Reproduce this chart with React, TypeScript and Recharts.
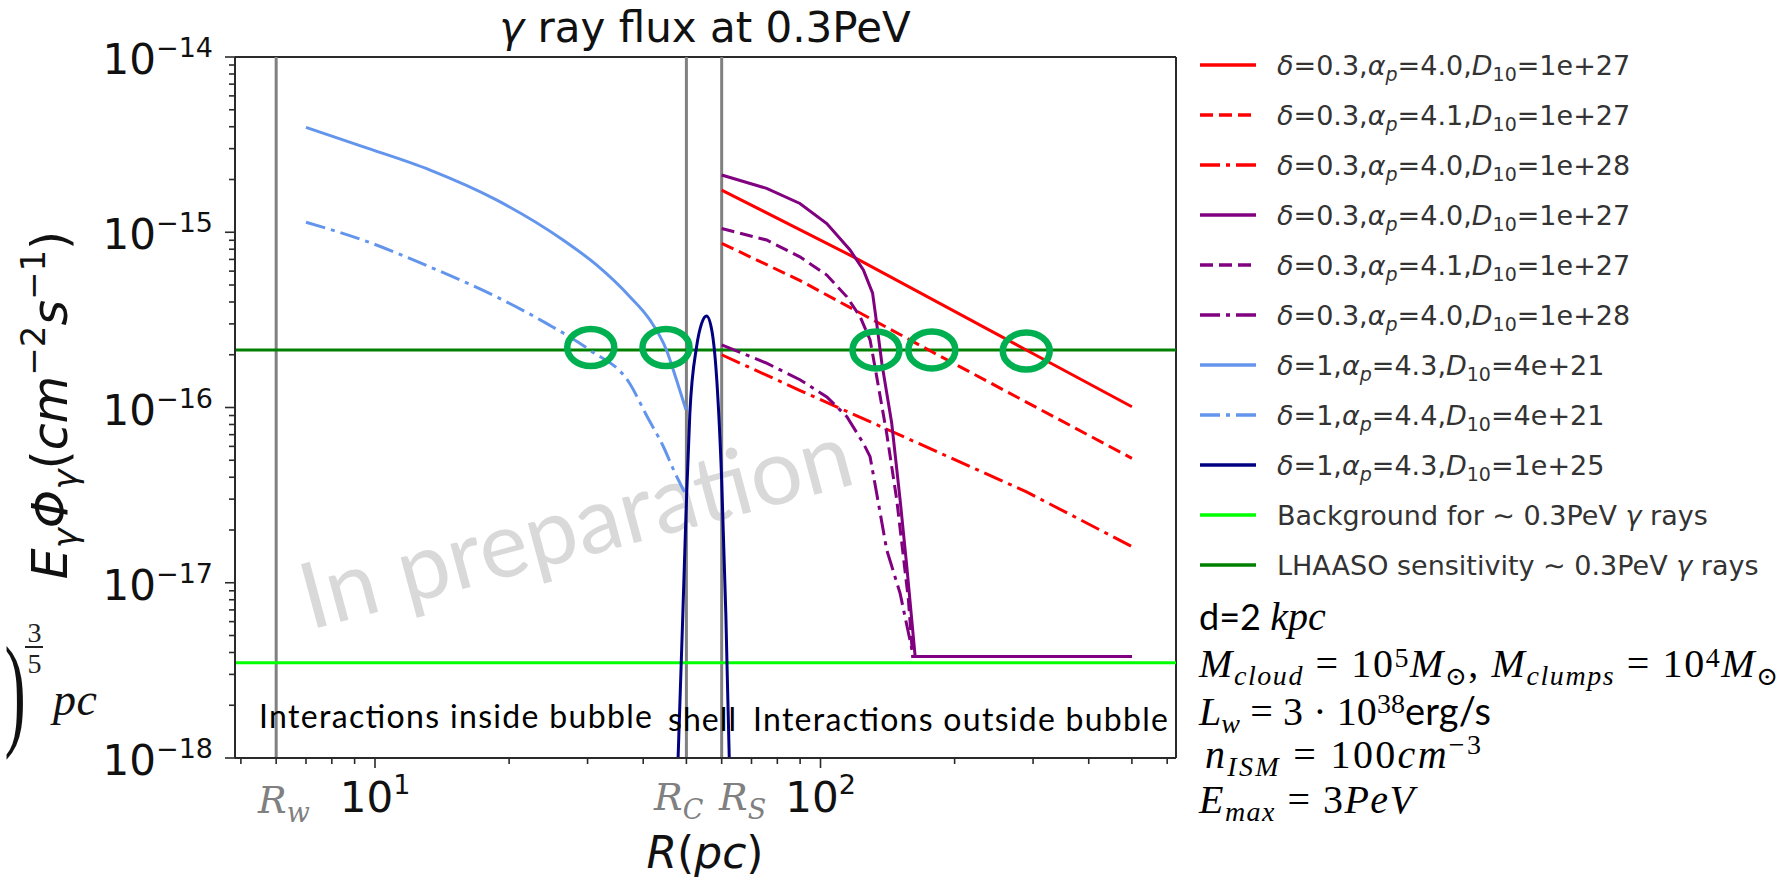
import React from 'react';
import { LineChart, Line, XAxis, YAxis, ReferenceLine, ReferenceDot } from 'recharts';

// ---------------- data (R in pc, flux in cm^-2 s^-1) ----------------
const redSolid: [number, number][] = [[60, 1.74e-15], [118.5, 7.24e-16], [289.6, 2.13e-16], [500, 1.01e-16]];
const redDashed: [number, number][] = [[60, 8.65e-16], [90, 5.3e-16], [177.8, 2.08e-16], [500, 5.13e-17]];
const redDashDot: [number, number][] = [[60, 2.0e-16], [90, 1.25e-16], [150, 7.0e-17], [290, 3.3e-17], [500, 1.61e-17]];
const purpleSolid: [number, number][] = [
  [60, 2.12e-15], [75.7, 1.78e-15], [89.9, 1.46e-15], [103.3, 1.12e-15], [116.5, 7.92e-16], [124.8, 6.09e-16],
  [130.9, 4.49e-16], [133.7, 3.02e-16], [137.3, 1.79e-16], [144.5, 8.13e-17], [150.9, 2.97e-17], [156.2, 1.24e-17],
  [163.1, 3.8e-18], [500, 3.8e-18],
];
const purpleDashed: [number, number][] = [
  [60, 1.05e-15], [75.7, 9.03e-16], [89.9, 7.24e-16], [103.3, 5.7e-16], [114.6, 4.28e-16], [122.7, 3.3e-16],
  [129.2, 2.43e-16], [133.7, 1.5e-16], [140.8, 7.1e-17], [144.5, 4.6e-17], [148.3, 2.97e-17], [157.5, 8.0e-18],
  [161, 3.8e-18], [500, 3.8e-18],
];
const purpleDashDot: [number, number][] = [
  [60, 2.28e-16], [75.7, 1.79e-16], [89.9, 1.44e-16], [103.3, 1.15e-16], [114.6, 8.86e-17], [124.8, 6.25e-17],
  [129.2, 5.24e-17], [133.7, 3.23e-17], [140.8, 1.54e-17], [150.9, 8.7e-18], [161.6, 3.8e-18], [500, 3.8e-18],
];
const blueSolid: [number, number][] = [
  [7.0, 3.97e-15], [9.39, 3.08e-15], [13.26, 2.27e-15], [18.73, 1.53e-15], [26.43, 9.03e-16], [31.42, 6.51e-16],
  [37.33, 4.29e-16], [41.4, 3.16e-16], [45.1, 2.13e-16], [47.5, 1.44e-16], [49.9, 9.7e-17],
];
const blueDashDot: [number, number][] = [
  [7.0, 1.14e-15], [9.39, 9.03e-16], [13.26, 6.35e-16], [18.73, 4.28e-16], [24.26, 3.02e-16], [30.3, 2.13e-16],
  [37.3, 1.37e-16], [40.7, 9.0e-17], [44.4, 5.97e-17], [47.0, 4.3e-17], [49.5, 3.3e-17],
];
const navySolid: [number, number][] = [
  [47.3, 5e-19], [47.9, 1e-18], [49.9, 2.49e-17], [50.9, 9.27e-17], [52.7, 2.22e-16], [54.1, 3.02e-16],
  [55.5, 3.33e-16], [57.0, 2.77e-16], [58.5, 1.44e-16], [60.0, 3.85e-17], [61.3, 6.7e-18], [62.4, 1e-18], [63.0, 5e-19],
];

const lhaasoLevel = 2.13e-16;
const backgroundLevel = 3.5e-18;
const radiusLines = [6, 50, 60];
const circleR = [30.5, 45, 133.2, 177.8, 289.6];
const circleY = [2.2e-16, 2.2e-16, 2.13e-16, 2.13e-16, 2.1e-16];

const xMajorTicks = [10, 100];
const xTickExponents = ['1', '2'];
const xMinorTicks = [5, 6, 7, 8, 9, 20, 30, 40, 50, 60, 70, 80, 90, 200, 300, 400, 500, 600];
const yMajorTicks = [1e-18, 1e-17, 1e-16, 1e-15, 1e-14];
const yTickExponents = ['−18', '−17', '−16', '−15', '−14'];
const yMinorTicks = [
  2e-18, 3e-18, 4e-18, 5e-18, 6e-18, 7e-18, 8e-18, 9e-18,
  2e-17, 3e-17, 4e-17, 5e-17, 6e-17, 7e-17, 8e-17, 9e-17,
  2e-16, 3e-16, 4e-16, 5e-16, 6e-16, 7e-16, 8e-16, 9e-16,
  2e-15, 3e-15, 4e-15, 5e-15, 6e-15, 7e-15, 8e-15, 9e-15,
];

const legendDelta = ['0.3', '0.3', '0.3', '0.3', '0.3', '0.3', '1', '1', '1'];
const legendAlpha = ['4.0', '4.1', '4.0', '4.0', '4.1', '4.0', '4.3', '4.4', '4.3'];
const legendD = ['1e+27', '1e+27', '1e+28', '1e+27', '1e+27', '1e+28', '4e+21', '4e+21', '1e+25'];

// ---------------- styles ----------------
const RED = '#ff0000';
const PURPLE = '#800080';
const CBLUE = '#6495ed';
const NAVY = '#000080';
const LIME = '#00ff00';
const GREEN = '#008000';
const DASH = '13 6';
const DASHDOT = '20 6 4 6';

const series = [
  { data: redSolid, color: RED, dash: undefined as string | undefined, curve: 'linear' },
  { data: redDashed, color: RED, dash: DASH, curve: 'linear' },
  { data: redDashDot, color: RED, dash: DASHDOT, curve: 'linear' },
  { data: purpleSolid, color: PURPLE, dash: undefined, curve: 'linear' },
  { data: purpleDashed, color: PURPLE, dash: DASH, curve: 'linear' },
  { data: purpleDashDot, color: PURPLE, dash: DASHDOT, curve: 'linear' },
  { data: blueSolid, color: CBLUE, dash: undefined, curve: 'monotone' },
  { data: blueDashDot, color: CBLUE, dash: DASHDOT, curve: 'monotone' },
  { data: navySolid, color: NAVY, dash: undefined, curve: 'monotone' },
];

const W = 1787;
const H = 880;
const PLOT_LEFT = 235;
const PLOT_RIGHT = 1176;
const PLOT_TOP = 57;
const PLOT_BOTTOM = 758;
const Y_AXIS_W = 120;
const X_AXIS_H = 100;
const AXIS_COLOR = '#2a2a2a';
const SANS = '"DejaVu Sans", sans-serif';
const SERIF = '"Liberation Serif", "DejaVu Serif", serif';
const CAL = 'Lato, "Open Sans", sans-serif';

const toPoints = (arr: [number, number][]) => arr.map(([r, v]) => ({ r, v }));

const XTick = (props: any) => {
  const { x, payload } = props;
  const v = payload.value;
  const i = xMajorTicks.indexOf(v);
  const major = i >= 0;
  return (
    <g>
      <line x1={x} x2={x} y1={PLOT_BOTTOM} y2={PLOT_BOTTOM + (major ? 10 : 6)} stroke={AXIS_COLOR} strokeWidth={1.6} />
      {major && (
        <text x={x} y={812} textAnchor="middle" fontFamily={SANS} fontSize={42} fill="#111">
          10<tspan dy={-18} fontSize={27}>{xTickExponents[i]}</tspan>
        </text>
      )}
    </g>
  );
};

const YTick = (props: any) => {
  const { y, payload } = props;
  const v = payload.value;
  const i = yMajorTicks.indexOf(v);
  const major = i >= 0;
  return (
    <g>
      <line x1={PLOT_LEFT} x2={PLOT_LEFT - (major ? 10 : 6)} y1={y} y2={y} stroke={AXIS_COLOR} strokeWidth={1.6} />
      {major && (
        <text x={PLOT_LEFT - 22} y={y + 17} textAnchor="end" fontFamily={SANS} fontSize={42} fill="#111">
          10<tspan dy={-17} fontSize={27}>{yTickExponents[i]}</tspan>
        </text>
      )}
    </g>
  );
};

const ParamLabel = ({ d, a, D }: { d: string; a: string; D: string }) => (
  <>
    <tspan fontStyle="italic">δ</tspan>
    <tspan>={d},</tspan>
    <tspan fontStyle="italic">α</tspan>
    <tspan fontStyle="italic" fontSize={19} dy={6}>p</tspan>
    <tspan dy={-6}>={a},</tspan>
    <tspan fontStyle="italic">D</tspan>
    <tspan fontSize={19} dy={6}>10</tspan>
    <tspan dy={-6}>={D}</tspan>
  </>
);

const legendStyles = [
  { color: RED, dash: undefined as string | undefined },
  { color: RED, dash: DASH },
  { color: RED, dash: DASHDOT },
  { color: PURPLE, dash: undefined },
  { color: PURPLE, dash: DASH },
  { color: PURPLE, dash: DASHDOT },
  { color: CBLUE, dash: undefined },
  { color: CBLUE, dash: DASHDOT },
  { color: NAVY, dash: undefined },
  { color: LIME, dash: undefined },
  { color: GREEN, dash: undefined },
];

const Legend = () => (
  <g>
    {legendStyles.map((s, i) => {
      const cy = 65 + 50 * i;
      return (
        <g key={i}>
          <line x1={1200} x2={1256} y1={cy} y2={cy} stroke={s.color} strokeWidth={3.5} strokeDasharray={s.dash} />
          <text x={1277} y={cy + 10} fontFamily={SANS} fontSize={27} fill="#333">
            {i < 9 ? (
              <ParamLabel d={legendDelta[i]} a={legendAlpha[i]} D={legendD[i]} />
            ) : i === 9 ? (
              <>Background for  ∼  0.3PeV <tspan fontStyle="italic">γ</tspan> rays</>
            ) : (
              <>LHAASO sensitivity  ∼  0.3PeV <tspan fontStyle="italic">γ</tspan> rays</>
            )}
          </text>
        </g>
      );
    })}
  </g>
);

const Ellipse = (p: any) => (
  <ellipse cx={p.cx} cy={p.cy} rx={23.5} ry={18.5} fill="none" stroke="#00b050" strokeWidth={6.5} />
);

export default function App() {
  return (
    <div style={{ position: 'absolute', left: 0, top: 0, width: W, height: H, background: '#fff', overflow: 'hidden' }}>
      <svg style={{ position: 'absolute', left: 0, top: 0 }} width={W} height={H}>
        <text x={310} y={630} transform="rotate(-15 310 630)" fontFamily={CAL} fontSize={92} fill="#d9d9d9">
          In preparation
        </text>
      </svg>
      <div style={{ position: 'absolute', left: 0, top: 0 }}>
        <LineChart
          width={W}
          height={H}
          margin={{ top: PLOT_TOP, right: W - PLOT_RIGHT, bottom: H - PLOT_BOTTOM - X_AXIS_H, left: PLOT_LEFT - Y_AXIS_W }}
        >
          <XAxis
            dataKey="r"
            type="number"
            scale="log"
            domain={[4.85, 628]}
            allowDataOverflow
            ticks={[...xMinorTicks, ...xMajorTicks]}
            interval={0}
            tick={(p: any) => <XTick {...p} />}
            tickLine={false}
            axisLine={{ stroke: AXIS_COLOR, strokeWidth: 2 }}
            height={X_AXIS_H}
          />
          <YAxis
            type="number"
            scale="log"
            domain={[1e-18, 1e-14]}
            allowDataOverflow
            ticks={[...yMinorTicks, ...yMajorTicks]}
            interval={0}
            tick={(p: any) => <YTick {...p} />}
            tickLine={false}
            axisLine={{ stroke: AXIS_COLOR, strokeWidth: 2 }}
            width={Y_AXIS_W}
          />
          <ReferenceLine y={1e-14} stroke={AXIS_COLOR} strokeWidth={2} />
          <ReferenceLine x={628} stroke={AXIS_COLOR} strokeWidth={2} />
          {radiusLines.map((r) => (
            <ReferenceLine key={r} x={r} stroke="#808080" strokeWidth={3} />
          ))}
          <ReferenceLine y={backgroundLevel} stroke={LIME} strokeWidth={3} />
          <ReferenceLine y={lhaasoLevel} stroke={GREEN} strokeWidth={3} />
          {series.map((s, i) => (
            <Line
              key={i}
              data={toPoints(s.data)}
              dataKey="v"
              stroke={s.color}
              strokeWidth={3}
              strokeDasharray={s.dash}
              dot={false}
              activeDot={false}
              type={s.curve as any}
              isAnimationActive={false}
            />
          ))}
          {circleR.map((r, i) => (
            <ReferenceDot key={i} x={r} y={circleY[i]} r={23} shape={(p: any) => <Ellipse {...p} />} />
          ))}
        </LineChart>
      </div>
      <svg style={{ position: 'absolute', left: 0, top: 0, pointerEvents: 'none' }} width={W} height={H}>
        {/* title */}
        <text x={705} y={41.5} textAnchor="middle" fontFamily={SANS} fontSize={42} fill="#111">
          <tspan fontStyle="italic">γ</tspan> ray flux at 0.3PeV
        </text>
        {/* y label */}
        <text x={67} y={405} transform="rotate(-90 67 405)" textAnchor="middle" fontFamily={SANS} fontSize={49} fill="#111">
          <tspan fontStyle="italic">E</tspan>
          <tspan fontStyle="italic" fontSize={34} dy={10}>γ</tspan>
          <tspan fontStyle="italic" dy={-10}>Φ</tspan>
          <tspan fontStyle="italic" fontSize={34} dy={10}>γ</tspan>
          <tspan dy={-10}>(</tspan>
          <tspan fontStyle="italic">cm</tspan>
          <tspan fontSize={34} dy={-22}>−2</tspan>
          <tspan fontStyle="italic" dy={22}>s</tspan>
          <tspan fontSize={34} dy={-22}>−1</tspan>
          <tspan dy={22}>)</tspan>
        </text>
        {/* x label */}
        <text x={705} y={868} textAnchor="middle" fontFamily={SANS} fontSize={44} fill="#111">
          <tspan fontStyle="italic">R</tspan>(<tspan fontStyle="italic">pc</tspan>)
        </text>
        {/* radius labels */}
        <text x={258} y={813} fontFamily='"DejaVu Serif", serif' fontSize={38} fill="#808080">
          <tspan fontStyle="italic">R</tspan>
          <tspan fontStyle="italic" fontSize={27} dy={9}>w</tspan>
        </text>
        <text x={654} y={810} fontFamily='"DejaVu Serif", serif' fontSize={38} fill="#808080">
          <tspan fontStyle="italic">R</tspan>
          <tspan fontStyle="italic" fontSize={27} dy={9}>C</tspan>
        </text>
        <text x={719} y={810} fontFamily='"DejaVu Serif", serif' fontSize={38} fill="#808080">
          <tspan fontStyle="italic">R</tspan>
          <tspan fontStyle="italic" fontSize={27} dy={9}>S</tspan>
        </text>
        {/* region annotations */}
        <text x={259} y={728} fontFamily={CAL} fontSize={32} fill="#000" textLength={393}>Interactions inside bubble</text>
        <text x={668} y={731} fontFamily={CAL} fontSize={32} fill="#000" textLength={68}>shell</text>
        <text x={753} y={731} fontFamily={CAL} fontSize={32} fill="#000" textLength={415}>Interactions outside bubble</text>
        {/* legend */}
        <Legend />
        {/* parameters */}
        <text x={1199} y={630} fontSize={36} fill="#000">
          <tspan fontFamily={CAL}>d=2 </tspan>
          <tspan fontFamily={SERIF} fontStyle="italic" fontSize={40}>kpc</tspan>
        </text>
        <text x={1199} y={677} fontFamily={SERIF} fontSize={40} fill="#000" textLength={579}>
          <tspan fontStyle="italic">M</tspan>
          <tspan fontStyle="italic" fontSize={28} dy={8}>cloud</tspan>
          <tspan dy={-8}> = 10</tspan>
          <tspan fontSize={28} dy={-10}>5</tspan>
          <tspan fontStyle="italic" dy={10}>M</tspan>
          <tspan fontSize={26} dy={8}>⊙</tspan>
          <tspan dy={-8}>, </tspan>
          <tspan fontStyle="italic">M</tspan>
          <tspan fontStyle="italic" fontSize={28} dy={8}>clumps</tspan>
          <tspan dy={-8}> = 10</tspan>
          <tspan fontSize={28} dy={-10}>4</tspan>
          <tspan fontStyle="italic" dy={10}>M</tspan>
          <tspan fontSize={26} dy={8}>⊙</tspan>
        </text>
        <text x={1199} y={725} fontFamily={SERIF} fontSize={40} fill="#000" textLength={292}>
          <tspan fontStyle="italic">L</tspan>
          <tspan fontStyle="italic" fontSize={28} dy={8}>w</tspan>
          <tspan dy={-8}> = 3 · 10</tspan>
          <tspan fontSize={28} dy={-12}>38</tspan>
          <tspan fontFamily={CAL} fontSize={38} dy={12}>erg/s</tspan>
        </text>
        <text x={1205} y={768} fontFamily={SERIF} fontSize={40} fill="#000" textLength={276}>
          <tspan fontStyle="italic">n</tspan>
          <tspan fontStyle="italic" fontSize={28} dy={8}>ISM</tspan>
          <tspan dy={-8}>  = 100</tspan>
          <tspan fontStyle="italic">cm</tspan>
          <tspan fontSize={28} dy={-14}>−3</tspan>
        </text>
        <text x={1199} y={813} fontFamily={SERIF} fontSize={40} fill="#000" textLength={215}>
          <tspan fontStyle="italic">E</tspan>
          <tspan fontStyle="italic" fontSize={28} dy={8}>max</tspan>
          <tspan dy={-8}> = 3</tspan>
          <tspan fontStyle="italic">PeV</tspan>
        </text>
        {/* cut-off formula fragment at left edge */}
        <text x={4} y={341} transform="scale(1.1 2.15)" fontFamily={SERIF} fontSize={58} fill="#111">)</text>
        <text x={34.5} y={642} textAnchor="middle" fontFamily={SERIF} fontSize={28} fill="#222">3</text>
        <line x1={25} x2={43} y1={647} y2={647} stroke="#222" strokeWidth={2} />
        <text x={34.5} y={673} textAnchor="middle" fontFamily={SERIF} fontSize={28} fill="#222">5</text>
        <text x={53} y={715} fontFamily={SERIF} fontStyle="italic" fontSize={46} fill="#111" textLength={44}>pc</text>
      </svg>
    </div>
  );
}
